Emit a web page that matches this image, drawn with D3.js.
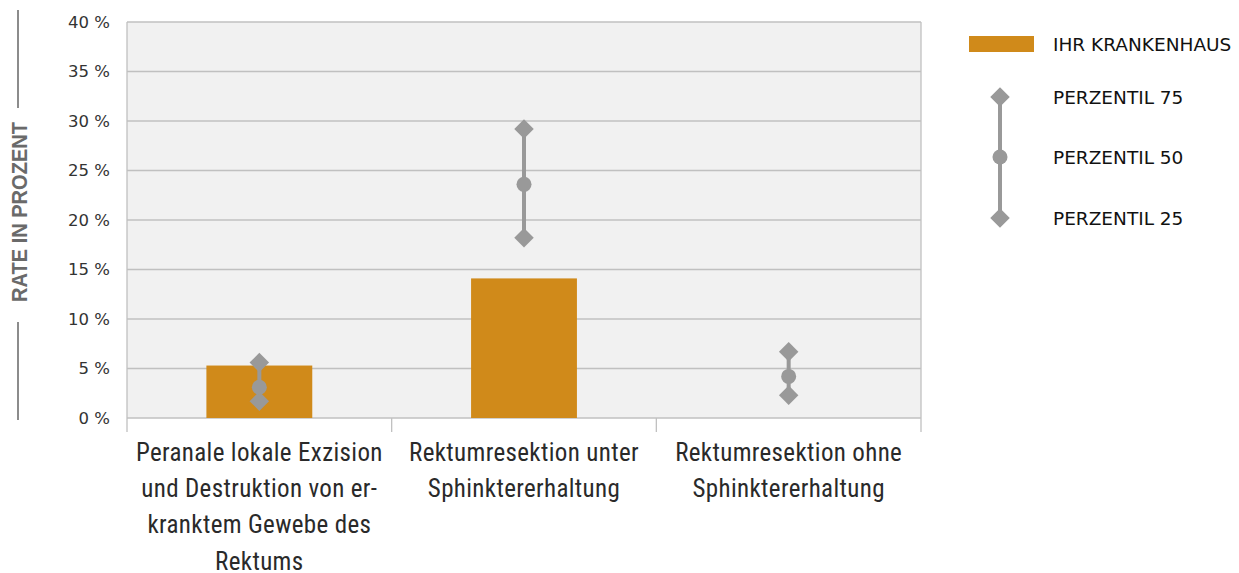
<!DOCTYPE html>
<html>
<head>
<meta charset="utf-8">
<script src="https://cdn.jsdelivr.net/npm/d3@7/dist/d3.min.js"></script>
<style>
  html, body { margin: 0; padding: 0; background: #ffffff; }
  svg { display: block; }
</style>
</head>
<body>
<svg id="chart" width="1239" height="573"></svg>
<script>
// Procedures (category labels, wrapped into lines)
const categories = [
  ["Peranale lokale Exzision", "und Destruktion von er-", "kranktem Gewebe des", "Rektums"],
  ["Rektumresektion unter", "Sphinktererhaltung"],
  ["Rektumresektion ohne", "Sphinktererhaltung"]
];
// Rate of the own hospital (null = no bar)
const hospitalRate = [5.3, 14.1, null];
// Percentiles of the comparison group
const p75 = [5.6, 29.2, 6.7];
const p50 = [3.1, 23.6, 4.2];
const p25 = [1.7, 18.2, 2.3];
// Y axis ticks
const yTicks = [0, 5, 10, 15, 20, 25, 30, 35, 40];
const legendLabels = ["IHR KRANKENHAUS", "PERZENTIL 75", "PERZENTIL 50", "PERZENTIL 25"];

const svg = d3.select("#chart");
const plotL = 127, plotR = 921, plotT = 22, plotB = 418;
const barColor = "#d08a1a";
const markColor = "#999999";
const gridColor = "#c0c0c0";

const x = d3.scaleBand().domain(d3.range(categories.length)).range([plotL, plotR]);
const y = d3.scaleLinear().domain([0, 40]).range([plotB, plotT]);

// Plot background
svg.append("rect").attr("x", plotL).attr("y", plotT)
  .attr("width", plotR - plotL).attr("height", plotB - plotT).attr("fill", "#f1f1f1");

// Horizontal grid lines
svg.append("g").selectAll("line").data(yTicks).join("line")
  .attr("x1", plotL).attr("x2", plotR)
  .attr("y1", d => y(d)).attr("y2", d => y(d))
  .attr("stroke", gridColor).attr("stroke-width", 1.3);

// Left / right frame
svg.append("line").attr("x1", plotL).attr("x2", plotL).attr("y1", plotT).attr("y2", plotB)
  .attr("stroke", gridColor).attr("stroke-width", 1.3);
svg.append("line").attr("x1", plotR).attr("x2", plotR).attr("y1", plotT).attr("y2", plotB)
  .attr("stroke", gridColor).attr("stroke-width", 1.3);

// Y axis labels
const yAxis = d3.axisLeft(y).tickValues(yTicks).tickSize(0).tickPadding(17)
  .tickFormat(d => d + " %");
const gy = svg.append("g").attr("transform", `translate(${plotL},0)`).call(yAxis);
gy.select(".domain").remove();
gy.selectAll("text").attr("fill", "#333333")
  .style("font-family", "'DejaVu Sans', sans-serif").style("font-size", "16.5px");

// X axis: category boundary ticks
const bounds = d3.range(categories.length + 1).map(i => i < categories.length ? x(i) : x(categories.length - 1) + x.bandwidth());
svg.append("g").selectAll("line").data(bounds).join("line")
  .attr("x1", d => d).attr("x2", d => d).attr("y1", plotB).attr("y2", plotB + 14)
  .attr("stroke", gridColor).attr("stroke-width", 1.3);

// Category labels
const lab = svg.append("g");
categories.forEach((lines, i) => {
  const t = lab.append("text")
    .attr("x", x(i) + x.bandwidth() / 2)
    .attr("text-anchor", "middle")
    .attr("fill", "#2a2a2a")
    .style("font-family", "'Liberation Sans Narrow', 'Roboto Condensed', sans-serif")
    .style("font-size", "25px")
    .style("letter-spacing", "0.35px");
  lines.forEach((l, j) => {
    t.append("tspan").attr("x", x(i) + x.bandwidth() / 2).attr("y", 461 + j * 36.2).text(l);
  });
});

// Bars
const barW = x.bandwidth() * 0.4;
svg.append("g").selectAll("rect")
  .data(hospitalRate.map((v, i) => ({ v, i })).filter(d => d.v !== null))
  .join("rect")
  .attr("x", d => x(d.i) + x.bandwidth() / 2 - barW / 2)
  .attr("width", barW)
  .attr("y", d => y(d.v))
  .attr("height", d => plotB - y(d.v))
  .attr("fill", barColor);

// Percentile markers
const diamond = d3.symbol().type(d3.symbolSquare).size(190);
const cx = i => x(i) + x.bandwidth() / 2;
const pg = svg.append("g");
categories.forEach((_, i) => {
  pg.append("line").attr("x1", cx(i)).attr("x2", cx(i))
    .attr("y1", y(p75[i])).attr("y2", y(p25[i]))
    .attr("stroke", markColor).attr("stroke-width", 4);
  [p75[i], p25[i]].forEach(v => {
    pg.append("path").attr("d", diamond)
      .attr("transform", `translate(${cx(i)},${y(v)}) rotate(45)`)
      .attr("fill", markColor);
  });
  pg.append("circle").attr("cx", cx(i)).attr("cy", y(p50[i])).attr("r", 7.5).attr("fill", markColor);
});

// Y axis title with rules above and below
svg.append("text")
  .attr("transform", "translate(27,212) rotate(-90)")
  .attr("text-anchor", "middle")
  .attr("fill", "#6a6a6a")
  .style("font-family", "'Liberation Sans Narrow', sans-serif")
  .style("font-weight", "bold")
  .style("font-size", "22px")
  .attr("textLength", 180)
  .attr("lengthAdjust", "spacingAndGlyphs")
  .text("RATE IN PROZENT");
svg.append("line").attr("x1", 18).attr("x2", 18).attr("y1", 10).attr("y2", 108)
  .attr("stroke", "#666666").attr("stroke-width", 1.5);
svg.append("line").attr("x1", 18).attr("x2", 18).attr("y1", 322).attr("y2", 420)
  .attr("stroke", "#666666").attr("stroke-width", 1.5);

// Legend
const lg = svg.append("g");
const lgFont = g => g.style("font-family", "'DejaVu Sans', sans-serif").style("font-size", "18.5px").attr("fill", "#111111");
lg.append("rect").attr("x", 969).attr("y", 36).attr("width", 65).attr("height", 16).attr("fill", barColor);
const ly = [44, 97, 157, 218];
lg.append("line").attr("x1", 1000).attr("x2", 1000).attr("y1", ly[1]).attr("y2", ly[3])
  .attr("stroke", markColor).attr("stroke-width", 4);
[ly[1], ly[3]].forEach(v => {
  lg.append("path").attr("d", diamond)
    .attr("transform", `translate(1000,${v}) rotate(45)`).attr("fill", markColor);
});
lg.append("circle").attr("cx", 1000).attr("cy", ly[2]).attr("r", 7.5).attr("fill", markColor);
legendLabels.forEach((t, i) => {
  lg.append("text").attr("x", 1053).attr("y", ly[i]).attr("dy", "0.36em").call(lgFont).text(t);
});
</script>
</body>
</html>
